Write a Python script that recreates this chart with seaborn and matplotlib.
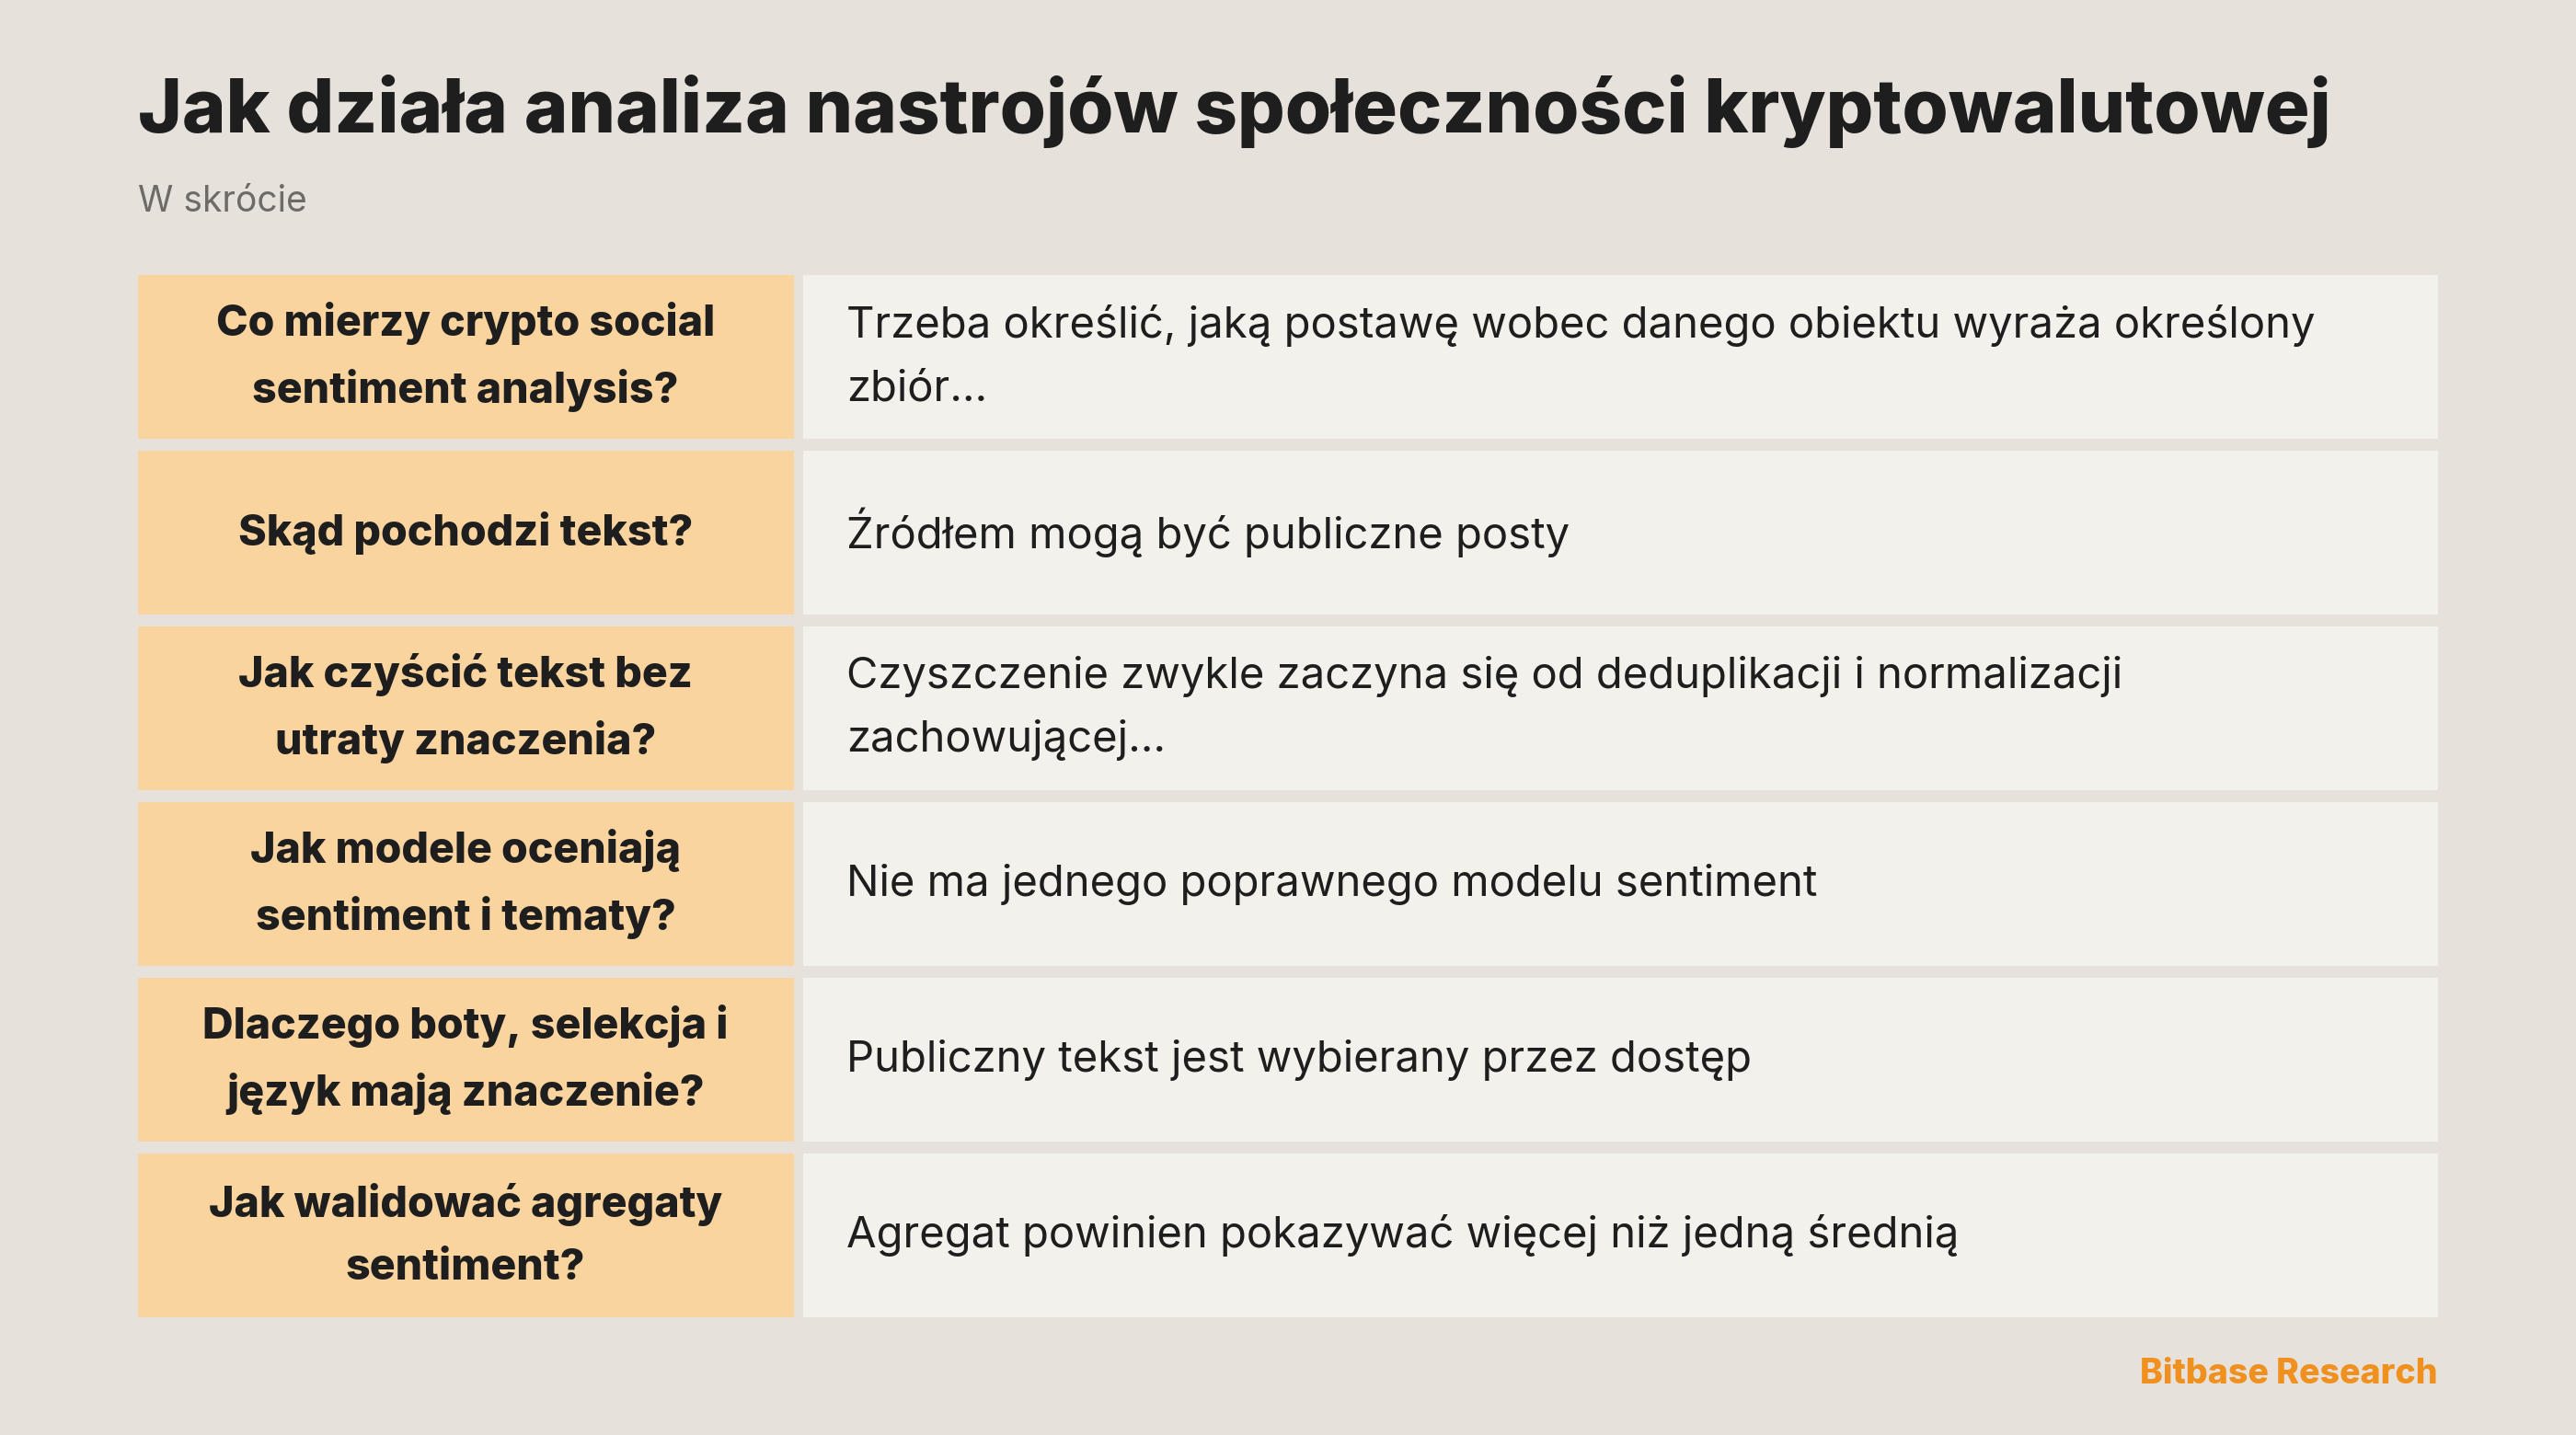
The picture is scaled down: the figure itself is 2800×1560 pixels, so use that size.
import matplotlib
matplotlib.use("Agg")
import matplotlib.pyplot as plt
import seaborn as sns

title = "Jak działa analiza nastrojów społeczności kryptowalutowej"
subtitle = "W skrócie"
questions = ["Co mierzy crypto social\nsentiment analysis?",
             "Skąd pochodzi tekst?",
             "Jak czyścić tekst bez\nutraty znaczenia?",
             "Jak modele oceniają\nsentiment i tematy?",
             "Dlaczego boty, selekcja i\njęzyk mają znaczenie?",
             "Jak walidować agregaty\nsentiment?"]
answers = ["Trzeba określić, jaką postawę wobec danego obiektu wyraża określony\nzbiór…",
           "Źródłem mogą być publiczne posty",
           "Czyszczenie zwykle zaczyna się od deduplikacji i normalizacji\nzachowującej…",
           "Nie ma jednego poprawnego modelu sentiment",
           "Publiczny tekst jest wybierany przez dostęp",
           "Agregat powinien pokazywać więcej niż jedną średnią"]
footer = "Bitbase Research"

sns.set_theme(style="white")
plt.rcParams['font.family'] = ['Inter', 'DejaVu Sans']

BG = "#E6E1DB"
fig = plt.figure(figsize=(28, 15.6), dpi=100, facecolor=BG)
ax = fig.add_axes([0, 0, 1, 1])
ax.set_facecolor(BG)
ax.set_xlim(0, 1568)
ax.set_ylim(874, 0)
ax.axis("off")

rows = list(range(len(questions)))
ys = [217.5 + 107 * i for i in rows]
ax.barh(ys, [399] * len(rows), left=84, height=100, color="#FAD49F", linewidth=0)
ax.barh(ys, [995] * len(rows), left=489, height=100, color="#F3F1EB", linewidth=0)
for y, q, a in zip(ys, questions, answers):
    ax.text(283.5, y, q, ha="center", va="center", fontsize=33.5, fontweight="heavy",
            color="#1E1E1E", linespacing=1.7)
    ax.text(515, y, a, ha="left", va="center", fontsize=34, color="#1E1E1E",
            linespacing=1.7)

ax.text(84, 68, title, ha="left", va="center", fontsize=58.5, fontweight="heavy", color="#1E1E1E")
ax.text(84, 123, subtitle, ha="left", va="center", fontsize=28, color="#6E6A66")
ax.text(1484, 837, footer, ha="right", va="center", fontsize=27, fontweight="heavy", color="#F0901E")

fig.savefig("out.png", dpi=100, facecolor=BG)
